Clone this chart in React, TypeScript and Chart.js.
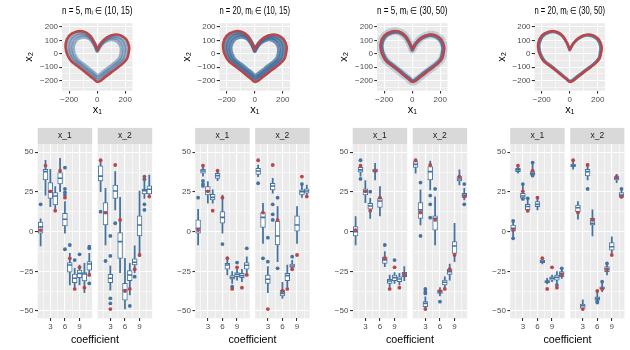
import React, { useEffect, useRef } from "react";
import { Chart, registerables } from "chart.js";

Chart.register(...registerables);

type Pair = [number, number];
type Box = [number, number, number, number, number]; // lower whisker, q1, median, q3, upper whisker

// ---------------- data ----------------
const coefficients = [1, 2, 3, 4, 5, 6, 7, 8, 9, 10, 11];
const truthX1 = [1, 41.6, 25.4, 13.2, 38.4, 21.4, -16.8, -36.1, -22.5, -35.3, -27.3];
const truthX2 = [45, 12, -48.8, 42, 7.4, -37.4, -36.1, -23.7, -14.7, 34.7, 22.1];

const panelTitles = [
  "n = 5, m\u1D62 \u2208 (10, 15)",
  "n = 20, m\u1D62 \u2208 (10, 15)",
  "n = 5, m\u1D62 \u2208 (30, 50)",
  "n = 20, m\u1D62 \u2208 (30, 50)",
];
const facetLabels = ["x_1", "x_2"];
const topXTicks = [-200, -100, 0, 100, 200];
const topYTicks = [-250, -200, -150, -100, -50, 0, 50, 100, 150, 200];
const coefTicks = [1.5, 3, 4.5, 6, 7.5, 9, 10.5];
const valueTicks = [-50, -37.5, -25, -12.5, 0, 12.5, 25, 37.5, 50];

// true curve (red)
const heartTruth: Pair[] = [
  [0, 30], [28, 80], [68, 120], [118, 142], [168, 137], [208, 106], [228, 52], [224, 5],
  [212, -38], [178, -76], [120, -122], [60, -170], [5, -210], [-25, -188], [-70, -150],
  [-130, -100], [-185, -55], [-207, -20], [-222, 20], [-226, 75], [-200, 135], [-150, 165],
  [-100, 166], [-55, 138], [-22, 85], [0, 30],
];
// estimated curves (blue)
const estWideOuter: Pair[] = [
  [0, 27], [26, 74], [63, 111], [110, 131], [156, 127], [193, 98], [212, 48], [208, 4],
  [197, -36], [166, -71], [112, -114], [56, -159], [5, -196], [-23, -176], [-65, -140],
  [-121, -94], [-172, -52], [-193, -19], [-206, 18], [-210, 69], [-186, 125], [-140, 153],
  [-93, 154], [-51, 128], [-20, 78], [0, 27],
];
const estWideMid: Pair[] = [
  [0, 24], [24, 67], [58, 101], [100, 119], [143, 115], [177, 89], [194, 43], [190, 3],
  [180, -34], [151, -66], [102, -105], [51, -146], [4, -180], [-21, -161], [-60, -129],
  [-111, -87], [-157, -48], [-176, -19], [-189, 16], [-192, 62], [-170, 113], [-128, 139],
  [-85, 140], [-47, 116], [-19, 71], [0, 24],
];
const estWideInner: Pair[] = [
  [0, 20], [21, 58], [52, 89], [90, 106], [128, 102], [158, 78], [173, 37], [170, 2],
  [161, -31], [135, -60], [91, -95], [46, -132], [4, -162], [-19, -145], [-53, -116],
  [-99, -78], [-141, -44], [-157, -18], [-169, 13], [-172, 55], [-152, 100], [-114, 123],
  [-76, 124], [-42, 102], [-17, 62], [0, 20],
];
const estTight: Pair[] = [
  [0, 29], [27, 77], [66, 115], [114, 137], [162, 132], [201, 102], [220, 50], [216, 5],
  [205, -37], [172, -74], [116, -118], [58, -164], [5, -203], [-24, -182], [-68, -145],
  [-125, -97], [-179, -53], [-200, -20], [-214, 19], [-218, 72], [-193, 130], [-145, 159],
  [-97, 160], [-53, 133], [-21, 82], [0, 29],
];

// boxplots: [lower, q1, median, q3, upper] per coefficient; outliers: [coefficient, value]
const c1x1Box: Box[] = [
  [-9, -1, 3, 6, 8], [23, 32.6, 37.8, 39.3, 45], [15.8, 21, 25.2, 30.9, 39.3], [13.7, 16.8, 22.5, 24.6, 28.4],
  [25.2, 30, 33.6, 37.2, 46.2], [-1, 3.6, 7.8, 11.6, 19], [-33.6, -25.6, -21, -19.5, -13.7], [-34.7, -32.1, -29.4, -26.7, -23.1],
  [-33.6, -29, -26.3, -24.2, -21], [-38.4, -31.1, -26.7, -25.8, -20], [-26.7, -24.2, -20.4, -18.9, -13.7],
];
const c1x1Out: Pair[] = [[1, 17.2], [6, 40.3], [6, 26.9], [6, 24.8], [6, 23.1], [6, -11.1], [7, -8.4], [8, -17.9], [9, -14.3], [11, -10.5], [11, -9.5], [11, -32.6]];
const c1x2Box: Box[] = [
  [25.2, 31.9, 35, 41.4, 45], [-8.4, 4.2, 11.6, 18.3, 27.3], [-36.8, -32.1, -29.4, -26.9, -21.6], [13.7, 21, 25.6, 29.4, 37.8],
  [-25.8, -16.8, -6.3, -0.6, 21.6], [-48.7, -43.1, -36.8, -32.6, -16.8], [-39.9, -30.9, -27.3, -24.6, -20], [-25.8, -21, -19.3, -17.2, -9],
  [-15.8, -2.7, 4.2, 9.9, 25.6], [21, 23.7, 25.8, 26.7, 33.6], [21.6, 23.7, 26.7, 28.8, 35.7],
];
const c1x2Out: Pair[] = [[1, 12.6], [2, -18.5], [3, -15.3], [3, -2.7], [3, -42], [3, -45.2], [4, 5.3], [7, -46.8], [8, -28.4], [10, 13.7], [10, 17.2], [10, 33]];

const c2x1Box: Box[] = [
  [-8.4, -1, 2.1, 7.4, 14], [35, 36.8, 38.2, 39.3, 42], [17.9, 23.1, 25.8, 28.4, 31.5], [17.9, 20, 21.6, 23.5, 26.3],
  [32.1, 33.6, 35.3, 36.8, 38.2], [-1, 5.3, 9, 12.6, 23.1], [-27.3, -23.7, -21, -20, -15.8], [-32.6, -30, -29, -27.7, -25.2],
  [-30.5, -28.4, -26.9, -25.8, -22], [-31.5, -29, -27.7, -26.3, -23.7], [-26.3, -23.7, -21.2, -19.5, -15.8],
];
const c2x1Out: Pair[] = [[1, 21.4], [2, 31.9], [2, 30], [2, 28.8], [6, -7.8], [8, -34.7], [9, -19.5], [11, -10.5]];
const c2x2Box: Box[] = [
  [34.7, 36.1, 38.2, 39.9, 42], [-7.4, 2.7, 9, 12, 17.9], [-38.4, -32.6, -30, -27.3, -22], [24.2, 26.3, 28.8, 30.5, 33.6],
  [-18.9, -8.4, -2.7, 6.7, 15.8], [-42, -40.5, -38.9, -36.8, -31.9], [-34.7, -30.9, -27.7, -26.3, -21], [-24.2, -22.5, -21.6, -20.4, -18],
  [-7.4, 0, 4.2, 9.9, 15.8], [21.6, 23.1, 25.2, 26.3, 29.4], [22.5, 24.2, 25.6, 26.9, 29.4],
];
const c2x2Out: Pair[] = [[1, 30.5], [2, -16.8], [3, -3.8], [3, -18.9], [4, 17.2], [4, 10.9], [4, 7.4], [5, 21.4], [5, -23.1], [8, -15.8], [10, 30]];

const c3x1Box: Box[] = [
  [-8.4, -2.7, 0, 3.2, 9.5], [35, 37.4, 38.9, 40.5, 42], [18.3, 23.1, 25.4, 26.9, 32.1], [8.4, 14.1, 16.2, 17.9, 21],
  [32.6, 37.4, 38.2, 39.5, 43], [9.9, 15.3, 19.3, 21, 28.4], [-22, -20, -17.9, -15.8, -12.6], [-34.7, -32.6, -31.1, -30, -27.3],
  [-32.6, -30.9, -29, -27.3, -25.8], [-33.6, -31.5, -29.8, -28.4, -26.3], [-30.9, -28.4, -26.7, -25.6, -22],
];
const c3x1Out: Pair[] = [[2, 45], [2, 33.2], [4, 25.2], [7, -8.4], [9, -17.9]];
const c3x2Box: Box[] = [
  [36.8, 40.5, 42.4, 44.1, 45.6], [4.2, 8.4, 13.7, 18.3, 26.3], [-48.7, -47.3, -45.2, -44.1, -41], [26.3, 32.6, 37.8, 41, 44.5],
  [-8.4, 1, 8.4, 9.9, 22], [-40.5, -38.9, -37.8, -36.8, -35.3], [-35.7, -33.6, -31.9, -30.5, -28.4], [-30.5, -26.9, -25.2, -23.7, -20.4],
  [-18.9, -13.7, -9, -6.3, 5.3], [29.4, 31.9, 33.2, 34.7, 38.9], [20, 21.6, 23.1, 24.2, 27.3],
];
const c3x2Out: Pair[] = [[2, 30.9], [2, -2.7], [3, -36.1], [3, -37.8], [3, -38.9], [4, 22.7], [4, 17.2], [4, 8.8], [5, 26.9], [6, -44.1], [11, 30], [11, 17.2]];

const c4x1Box: Box[] = [
  [-4.2, 0, 2.1, 4.2, 6.3], [36.8, 37.8, 38.9, 39.9, 40.5], [20.6, 21, 22.5, 24.2, 29.4], [12.2, 13.7, 15.8, 17.2, 21],
  [35.3, 35.7, 36.8, 37.8, 43], [13.7, 15.8, 17.2, 18.9, 21], [-20.4, -19.5, -18.9, -17.9, -15.8], [-33, -32.1, -31.5, -30.9, -29.4],
  [-31.5, -30.5, -29.4, -28.4, -27.3], [-32.6, -30.5, -28.8, -27.3, -25.2], [-29.4, -28.4, -26.3, -25.2, -23.1],
];
const c4x1Out: Pair[] = [[1, 6.7], [1, -4.2], [3, 30], [3, 20.6], [4, 21], [5, 43.5], [5, 35.3], [10, -33.6], [11, -23.1]];
const c4x2Box: Box[] = [
  [39.3, 41, 41.8, 42.6, 44.1], [7.8, 12.6, 15.1, 16.8, 18.9], [-49.4, -48.3, -46.6, -45.6, -43], [32.6, 35.1, 37.8, 39.3, 43],
  [-2.7, 4.2, 5.3, 8.4, 13.7], [-44.7, -43.1, -42, -41, -37.8], [-37.8, -36.3, -35.7, -34.7, -31.5], [-27.3, -25.2, -23.5, -22, -20],
  [-13.7, -11.6, -9.5, -6.9, -3.2], [30.9, 32.6, 33.6, 34.7, 36.1], [21, 21.6, 23.1, 24.6, 26.9],
];
const c4x2Out: Pair[] = [[4, 26.9], [6, -43.7], [6, -44.7], [7, -31.5], [8, -20], [11, 26.9]];

// ---------------- layout & style ----------------
const W = 630;
const H = 350;
const COL_LEFT = [0, 157.5, 315, 472.5];
const FONT = "'Liberation Sans', Arial, Helvetica, sans-serif";
const RED = "#B8474B";
const BLUE = "#44739F";
const PANEL_BG = "#EBEBEB";
const STRIP_BG = "#D9D9D9";
const TICK_TEXT = "#4D4D4D";
const TICK_MARK = "#333333";

const facetTable: [Box[], Pair[]][][] = [
  [[c1x1Box, c1x1Out], [c1x2Box, c1x2Out]],
  [[c2x1Box, c2x1Out], [c2x2Box, c2x2Out]],
  [[c3x1Box, c3x1Out], [c3x2Box, c3x2Out]],
  [[c4x1Box, c4x1Out], [c4x2Box, c4x2Out]],
];

const curveStyles = [
  { curves: [estWideOuter, estWideMid, estWideInner], color: "rgba(62,108,155,0.5)", width: 3.6, halo: false },
  { curves: [estWideOuter, estWideMid, estWideInner], color: "rgba(62,108,155,0.75)", width: 3.8, halo: false },
  { curves: [estTight], color: "rgba(62,108,155,0.85)", width: 3.6, halo: true },
  { curves: [estTight], color: "rgba(62,108,155,0.85)", width: 2.8, halo: false },
];

function fmt(v: number): string {
  return v < 0 ? "\u2212" + Math.abs(v) : String(v);
}

const panelBg = {
  id: "panelBg",
  beforeDraw(chart: any) {
    const { ctx, chartArea: a } = chart;
    ctx.save();
    ctx.fillStyle = PANEL_BG;
    ctx.fillRect(a.left, a.top, a.right - a.left, a.bottom - a.top);
    ctx.restore();
  },
};

function makeStrip(text: string) {
  return {
    id: "strip",
    afterDraw(chart: any) {
      const { ctx, chartArea: a } = chart;
      const h = 16.3;
      ctx.save();
      ctx.fillStyle = STRIP_BG;
      ctx.fillRect(a.left, a.top - h, a.right - a.left, h);
      ctx.fillStyle = "#1A1A1A";
      ctx.font = `8.5px ${FONT}`;
      ctx.textAlign = "center";
      ctx.textBaseline = "middle";
      ctx.fillText(text, (a.left + a.right) / 2, a.top - h / 2);
      ctx.restore();
    },
  };
}

function gridOpts(isMajor: (v: number) => boolean, showTicks: boolean) {
  return {
    color: "#FFFFFF",
    lineWidth: (c: any) => (c.tick && isMajor(c.tick.value) ? 1.1 : 0.55),
    drawTicks: showTicks,
    tickLength: 2.75,
    tickWidth: 1.1,
    tickColor: (c: any) => (c.tick && isMajor(c.tick.value) ? TICK_MARK : "rgba(0,0,0,0)"),
    offset: false,
  };
}

const tickFont = { family: FONT, size: 8 };

function curveDataset(pts: Pair[], color: string, width: number, order: number) {
  return {
    type: "scatter",
    data: pts.map(([x, y]) => ({ x, y })),
    showLine: true,
    borderColor: color,
    borderWidth: width,
    pointRadius: 0,
    tension: 0.35,
    fill: false,
    borderCapStyle: "round",
    borderJoinStyle: "round",
    order,
  };
}

function topConfig(ci: number): any {
  const cl = COL_LEFT[ci];
  const pL = cl + 62;
  const pR = cl + 132.5;
  const st = curveStyles[ci];
  const datasets: any[] = [];
  if (st.halo) datasets.push(curveDataset(heartTruth, "rgba(62,108,155,0.25)", 7.5, 4));
  st.curves.forEach((c) => datasets.push(curveDataset(c, st.color, st.width, 3)));
  datasets.push(curveDataset(heartTruth, RED, 2.6, 1));
  const majX = (v: number) => v % 200 === 0;
  const majY = (v: number) => v % 100 === 0;
  return {
    type: "scatter",
    data: { datasets },
    plugins: [panelBg],
    options: {
      animation: false,
      responsive: false,
      maintainAspectRatio: false,
      events: [],
      layout: { padding: { left: 0, top: 0, right: W - pR, bottom: H - 120 } },
      plugins: {
        legend: { display: false },
        tooltip: { enabled: false },
        title: {
          display: true,
          text: panelTitles[ci],
          align: "start",
          fullSize: false,
          color: "#000000",
          font: { family: FONT, size: 10.2, weight: "normal" },
          padding: { top: 4.8, bottom: 6.2 },
        },
      },
      scales: {
        x: {
          type: "linear",
          min: -252,
          max: 252,
          offset: false,
          afterBuildTicks: (s: any) => { s.ticks = topXTicks.map((v) => ({ value: v })); },
          afterFit: (s: any) => { s.height = 29.3; s.paddingLeft = 0; s.paddingRight = 0; },
          grid: gridOpts(majX, true),
          border: { display: false },
          ticks: { autoSkip: false, maxRotation: 0, minRotation: 0, padding: 1.2, color: TICK_TEXT, font: tickFont, callback: (v: number) => (majX(v) ? fmt(v) : "") },
          title: { display: true, text: "x\u2081", color: "#000000", font: { family: FONT, size: 11 }, padding: { top: 0, bottom: 3.4 } },
        },
        y: {
          type: "linear",
          min: -274.5,
          max: 227.6,
          afterBuildTicks: (s: any) => { s.ticks = topYTicks.map((v) => ({ value: v })); },
          afterFit: (s: any) => { s.width = pL; s.paddingTop = 0; s.paddingBottom = 0; },
          grid: gridOpts(majY, true),
          border: { display: false },
          ticks: { autoSkip: false, padding: 1.2, color: TICK_TEXT, font: tickFont, callback: (v: number) => (majY(v) ? fmt(v) : "") },
          title: { display: true, text: "x\u2082", color: "#000000", font: { family: FONT, size: 11 }, padding: { top: cl + 22.4, bottom: 0 } },
        },
      },
    },
  };
}

function facetConfig(ci: number, fi: number): any {
  const cl = COL_LEFT[ci];
  const pL = cl + (fi === 0 ? 37.7 : 97.7);
  const pR = pL + 54.5;
  const [box, outs] = facetTable[ci][fi];
  const truth = fi === 0 ? truthX1 : truthX2;
  const majX = (v: number) => v % 3 === 0;
  const majY = (v: number) => v % 25 === 0;
  const showY = fi === 0;
  return {
    type: "bar",
    data: {
      datasets: [
        {
          type: "bar",
          data: box.map((b, i) => ({ x: coefficients[i], y: [b[0], b[4]] })),
          backgroundColor: BLUE,
          borderWidth: 0,
          barThickness: 1.1,
          grouped: false,
          order: 5,
        },
        {
          type: "bar",
          data: box.map((b, i) => ({ x: coefficients[i], y: [b[1], b[3]] })),
          backgroundColor: "#FFFFFF",
          borderColor: BLUE,
          borderWidth: 1,
          borderSkipped: false,
          barThickness: 4.8,
          grouped: false,
          order: 4,
        },
        {
          type: "scatter",
          data: box.map((b, i) => ({ x: coefficients[i], y: b[2] })),
          pointStyle: "line",
          pointRadius: 2.3,
          pointBorderColor: BLUE,
          pointBorderWidth: 1.6,
          order: 3,
        },
        {
          type: "scatter",
          data: outs.map(([x, y]) => ({ x, y })),
          pointRadius: 1.9,
          pointBackgroundColor: BLUE,
          pointBorderWidth: 0,
          order: 2,
        },
        {
          type: "scatter",
          data: truth.map((y, i) => ({ x: coefficients[i], y })),
          pointRadius: 1.9,
          pointBackgroundColor: RED,
          pointBorderWidth: 0,
          order: 1,
        },
      ],
    },
    plugins: [panelBg, makeStrip(facetLabels[fi])],
    options: {
      animation: false,
      responsive: false,
      maintainAspectRatio: false,
      events: [],
      layout: { padding: { left: 0, top: 144.2, right: W - pR, bottom: 12 } },
      plugins: { legend: { display: false }, tooltip: { enabled: false }, title: { display: false } },
      scales: {
        x: {
          type: "linear",
          min: 0.4,
          max: 11.6,
          offset: false,
          afterBuildTicks: (s: any) => { s.ticks = coefTicks.map((v) => ({ value: v })); },
          afterFit: (s: any) => { s.height = H - 12 - 318.3; s.paddingLeft = 0; s.paddingRight = 0; },
          grid: gridOpts(majX, true),
          border: { display: false },
          ticks: { autoSkip: false, maxRotation: 0, minRotation: 0, padding: 1.4, color: TICK_TEXT, font: tickFont, callback: (v: number) => (majX(v) ? fmt(v) : "") },
        },
        y: {
          type: "linear",
          min: -54.6,
          max: 55.1,
          afterBuildTicks: (s: any) => { s.ticks = valueTicks.map((v) => ({ value: v })); },
          afterFit: (s: any) => { s.width = pL; s.paddingTop = 0; s.paddingBottom = 0; },
          grid: gridOpts(majY, showY),
          border: { display: false },
          ticks: { display: showY, autoSkip: false, padding: 1.6, color: TICK_TEXT, font: tickFont, callback: (v: number) => (majY(v) ? fmt(v) : "") },
        },
      },
    },
  };
}

function buildConfigs(): any[] {
  const list: any[] = [];
  for (let ci = 0; ci < 4; ci++) {
    list.push(topConfig(ci));
    list.push(facetConfig(ci, 0));
    list.push(facetConfig(ci, 1));
  }
  return list;
}

export default function App() {
  const refs = useRef<(HTMLCanvasElement | null)[]>([]);
  useEffect(() => {
    const charts: Chart[] = [];
    buildConfigs().forEach((cfg, i) => {
      const c = refs.current[i];
      if (c) charts.push(new Chart(c, cfg));
    });
    return () => charts.forEach((ch) => ch.destroy());
  }, []);
  return (
    <div style={{ position: "fixed", left: 0, top: 0, width: W, height: H, background: "#FFFFFF", overflow: "hidden", fontFamily: FONT }}>
      {Array.from({ length: 12 }).map((_, i) => (
        <canvas
          key={i}
          ref={(el) => { refs.current[i] = el; }}
          width={W}
          height={H}
          style={{ position: "absolute", left: 0, top: 0 }}
        />
      ))}
      {COL_LEFT.map((cl, i) => (
        <div
          key={"coef" + i}
          style={{ position: "absolute", left: cl + 37.7, width: 114.5, top: 332, height: 14, lineHeight: "14px", textAlign: "center", fontSize: 10.7, color: "#000000" }}
        >
          coefficient
        </div>
      ))}
    </div>
  );
}
